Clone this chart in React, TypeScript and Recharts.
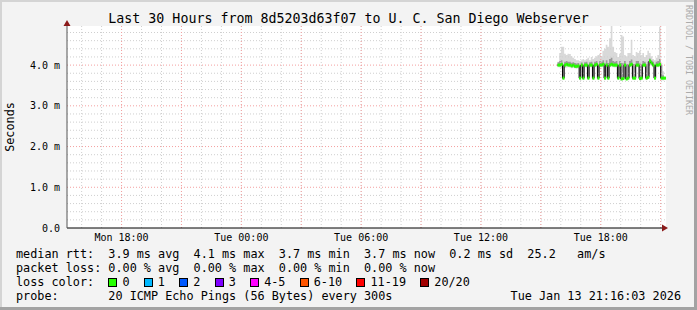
import { Area, ComposedChart, Line, ReferenceLine, XAxis, YAxis } from "recharts";

// chart runs from Mon 15:16:03 to Tue 21:16:03, x is hours since start
const sampleStartHour = 24.566; // first ping sample, Tue 15:50
const sampleStepHours = 5 / 60; // every 300s

const xTickHours = [2.7325, 8.7325, 14.7325, 20.7325, 26.7325];
const xTickLabels = ["Mon 18:00", "Tue 00:00", "Tue 06:00", "Tue 12:00", "Tue 18:00"];
const yTicks = [0, 1, 2, 3, 4];
const yTickLabels = ["0.0", "1.0 m", "2.0 m", "3.0 m", "4.0 m"];

// median rtt in ms
const median = [
  4.0, 4.0, 4.02, 3.68, 4.0, 4.02, 4.0, 4.0, 3.98, 4.0,
  3.97, 3.97, 3.98, 3.68, 4.0, 3.68, 4.0, 4.0, 3.68, 4.0,
  4.0, 3.68, 4.0, 4.02, 3.68, 4.0, 4.0, 4.02, 3.68, 4.0,
  3.68, 4.0, 4.02, 4.0, 4.0, 4.0, 3.68, 4.0, 3.66, 3.67,
  4.0, 3.66, 3.68, 4.0, 4.02, 3.68, 3.68, 4.0, 4.0, 3.67,
  3.68, 4.0, 4.0, 3.68, 3.7, 4.1, 4.05, 4.0, 3.68, 4.0,
  4.0, 4.02, 3.68, 3.68, 3.68,
];
// light smoke (min..max ping)
const smokeLo = [
  3.95, 3.94, 3.93, 3.64, 3.93, 3.94, 3.95, 3.94, 3.92, 3.93,
  3.92, 3.91, 3.92, 3.64, 3.94, 3.64, 3.95, 3.94, 3.64, 3.95,
  3.95, 3.64, 3.95, 3.96, 3.64, 3.95, 3.95, 3.96, 3.64, 3.95,
  3.64, 3.95, 3.96, 3.95, 3.94, 3.95, 3.64, 3.95, 3.63, 3.64,
  3.95, 3.63, 3.64, 3.95, 3.96, 3.64, 3.64, 3.95, 3.95, 3.63,
  3.64, 3.95, 3.95, 3.64, 3.66, 4.0, 3.98, 3.95, 3.64, 3.95,
  3.95, 3.96, 3.64, 3.62, 3.62,
];
const smokeHi = [
  4.08, 4.3, 4.45, 4.45, 4.28, 4.25, 4.28, 4.27, 4.22, 4.18,
  4.15, 4.12, 4.12, 4.1, 4.12, 4.15, 4.12, 4.15, 4.18, 4.12,
  4.2, 4.15, 4.18, 4.22, 4.25, 4.28, 4.22, 4.35, 4.4, 4.5,
  4.45, 4.66, 4.97, 4.45, 4.32, 4.3, 4.2, 4.28, 4.74, 4.7,
  4.25, 4.22, 4.3, 4.3, 4.62, 4.25, 4.22, 4.32, 4.3, 4.35,
  4.25, 4.3, 4.2, 4.25, 4.35, 4.3, 4.22, 4.15, 4.12, 4.18,
  4.25, 4.94, 4.05, 3.85, 3.85,
];
// dense smoke around the median
const denseLo = [
  3.98, 3.98, 4.0, 3.66, 3.98, 4.0, 3.98, 3.98, 3.96, 3.98,
  3.95, 3.95, 3.96, 3.66, 3.98, 3.66, 3.98, 3.98, 3.66, 3.98,
  3.98, 3.66, 3.98, 4.0, 3.66, 3.98, 3.98, 4.0, 3.66, 3.98,
  3.66, 3.98, 4.0, 3.98, 3.98, 3.98, 3.66, 3.98, 3.64, 3.65,
  3.98, 3.64, 3.66, 3.98, 4.0, 3.66, 3.66, 3.98, 3.98, 3.65,
  3.66, 3.98, 3.98, 3.66, 3.68, 4.08, 4.03, 3.98, 3.66, 3.98,
  3.98, 4.0, 3.66, 3.66, 3.66,
];
const denseHi = [
  4.07, 4.1, 4.12, 4.02, 4.08, 4.1, 4.08, 4.08, 4.06, 4.07,
  4.05, 4.04, 4.05, 4.0, 4.07, 4.02, 4.07, 4.08, 4.02, 4.07,
  4.08, 4.02, 4.08, 4.1, 4.03, 4.1, 4.08, 4.12, 4.04, 4.12,
  4.05, 4.15, 4.18, 4.1, 4.08, 4.1, 4.02, 4.1, 4.05, 4.04,
  4.1, 4.02, 4.03, 4.1, 4.14, 4.03, 4.03, 4.1, 4.1, 4.04,
  4.02, 4.1, 4.08, 4.03, 4.08, 4.16, 4.12, 4.08, 4.02, 4.08,
  4.1, 4.15, 4.0, 3.75, 3.75,
];

const lossLabels = ["0", "1", "2", "3", "4-5", "6-10", "11-19", "20/20"];
const lossColors = ["#26ff00", "#00b8ff", "#0059ff", "#7e00ff", "#ff00ff", "#ff5500", "#ff0000", "#a10000"];

const rttStats = ["3.9 ms avg", "4.1 ms max", "3.7 ms min", "3.7 ms now", "0.2 ms sd", "25.2   am/s"];
const lossStats = ["0.00 % avg", "0.00 % max", "0.00 % min", "0.00 % now"];

const data = median.map((m, i) => ({
  t: sampleStartHour + i * sampleStepHours,
  med: m,
  light: [smokeLo[i], smokeHi[i]],
  dense: [denseLo[i], denseHi[i]],
}));

const minorX = Array.from({ length: 30 }, (_, k) => 0.7325 + k);
const majorX = Array.from({ length: 10 }, (_, k) => 2.7325 + 3 * k);
const minorY = Array.from({ length: 24 }, (_, k) => (k + 1) * 0.2).filter((v) => Math.abs(v - Math.round(v)) > 0.01);
const majorY = [1, 2, 3, 4];

const mono = "'DejaVu Sans Mono', monospace";

const renderDash = (p: any) => (
  <rect key={p.index} x={p.cx} y={p.cy - 1.5} width={2} height={3} fill="#26ff00" />
);

const App = () => {
  return (
    <div style={{ position: "relative", width: 697, height: 310, background: "#f3f3f3", fontFamily: mono, overflow: "hidden" }}>
      <style>{`body{margin:0}`}</style>
      <div style={{ position: "absolute", left: 0, top: 0, width: 697, height: 2, background: "#d4d4d4" }} />
      <div style={{ position: "absolute", left: 0, top: 0, width: 2, height: 310, background: "#d4d4d4" }} />
      <div style={{ position: "absolute", right: 0, top: 0, width: 3, height: 310, background: "#a3a3a3" }} />
      <div style={{ position: "absolute", left: 0, bottom: 0, width: 697, height: 3, background: "#a3a3a3" }} />

      <ComposedChart
        style={{ position: "absolute", left: 0, top: 0 }}
        width={697}
        height={310}
        data={data}
        margin={{ top: 26, right: 31, bottom: 52, left: 7 }}
      >
        <rect x={67} y={26} width={599} height={202} fill="#fff" />
        <XAxis
          type="number"
          dataKey="t"
          domain={[0, 30]}
          allowDataOverflow
          ticks={xTickHours}
          tickFormatter={(v: number) => xTickLabels[xTickHours.indexOf(v)] ?? ""}
          axisLine={{ stroke: "#000" }}
          tickLine={false}
          tickSize={0}
          tickMargin={6}
          height={30}
          tick={{ fontSize: 10, fontFamily: mono, fill: "#000" }}
        />
        <YAxis
          type="number"
          domain={[0, 4.96]}
          allowDataOverflow
          ticks={yTicks}
          tickFormatter={(v: number) => yTickLabels[yTicks.indexOf(v)] ?? ""}
          axisLine={{ stroke: "#555" }}
          tickLine={false}
          tickSize={0}
          tickMargin={7}
          width={60}
          tick={{ fontSize: 10, fontFamily: mono, fill: "#000" }}
        />
        {minorX.map((x) => (
          <ReferenceLine key={"mx" + x} x={x} stroke="#cfcfcf" strokeDasharray="1 2" />
        ))}
        {minorY.map((y) => (
          <ReferenceLine key={"my" + y} y={y} stroke="#cfcfcf" strokeDasharray="1 2" />
        ))}
        {majorX.map((x) => (
          <ReferenceLine key={"Mx" + x} x={x} stroke="#f4a0a0" strokeDasharray="1 2" />
        ))}
        {majorY.map((y) => (
          <ReferenceLine key={"My" + y} y={y} stroke="#f4a0a0" strokeDasharray="1 2" />
        ))}
        <Area type="stepAfter" dataKey="light" fill="#d9d9d9" fillOpacity={1} stroke="none" isAnimationActive={false} />
        <Area type="stepAfter" dataKey="dense" fill="#9a9a9a" fillOpacity={1} stroke="none" isAnimationActive={false} />
        <Line type="stepAfter" dataKey="med" stroke="#000" strokeWidth={1} dot={false} isAnimationActive={false} />
        <Line dataKey="med" stroke="none" dot={renderDash} activeDot={false} isAnimationActive={false} />
      </ComposedChart>

      <svg style={{ position: "absolute", left: 0, top: 0 }} width={697} height={310}>
        <polygon points="662,224.5 668,228 662,231.5" fill="#8b1a1a" />
        <polygon points="63.5,26 67,20 70.5,26" fill="#8b1a1a" />
      </svg>

      <div style={{ position: "absolute", left: 0, top: 11, width: 697, textAlign: "center", fontSize: 13.3, lineHeight: "16px", color: "#000", whiteSpace: "pre" }}>
        Last 30 Hours from 8d5203d63f07 to U. C. San Diego Webserver
      </div>
      <div style={{ position: "absolute", left: 684, top: 5, writingMode: "vertical-rl", fontSize: 8.3, lineHeight: "9px", color: "#ababab", whiteSpace: "pre" }}>
        RRDTOOL / TOBI OETIKER
      </div>
      <div style={{ position: "absolute", left: 10, top: 127, transform: "translate(-50%, -50%) rotate(-90deg)", fontSize: 11.8, lineHeight: "14px", color: "#000", whiteSpace: "pre" }}>
        Seconds
      </div>

      <div style={{ position: "absolute", left: 16, top: 247, fontSize: 11.8, lineHeight: "14px", color: "#000", whiteSpace: "pre" }}>
        <div>{"median rtt:  " + rttStats.join("  ")}</div>
        <div>{"packet loss: " + lossStats.join("  ")}</div>
        <div>
          {"loss color:  "}
          {lossLabels.map((l, i) => (
            <span key={l}>
              <span
                style={{
                  display: "inline-block",
                  boxSizing: "border-box",
                  width: 9,
                  height: 9,
                  marginRight: -2,
                  verticalAlign: "-1px",
                  background: lossColors[i],
                  border: "1px solid #000",
                }}
              />
              {" " + l + (i < lossLabels.length - 1 ? "  " : "")}
            </span>
          ))}
        </div>
        <div>{"probe:       20 ICMP Echo Pings (56 Bytes) every 300s"}</div>
      </div>
      <div style={{ position: "absolute", right: 16, top: 289, fontSize: 11.8, lineHeight: "14px", color: "#000", whiteSpace: "pre" }}>
        Tue Jan 13 21:16:03 2026
      </div>
    </div>
  );
};

export default App;
